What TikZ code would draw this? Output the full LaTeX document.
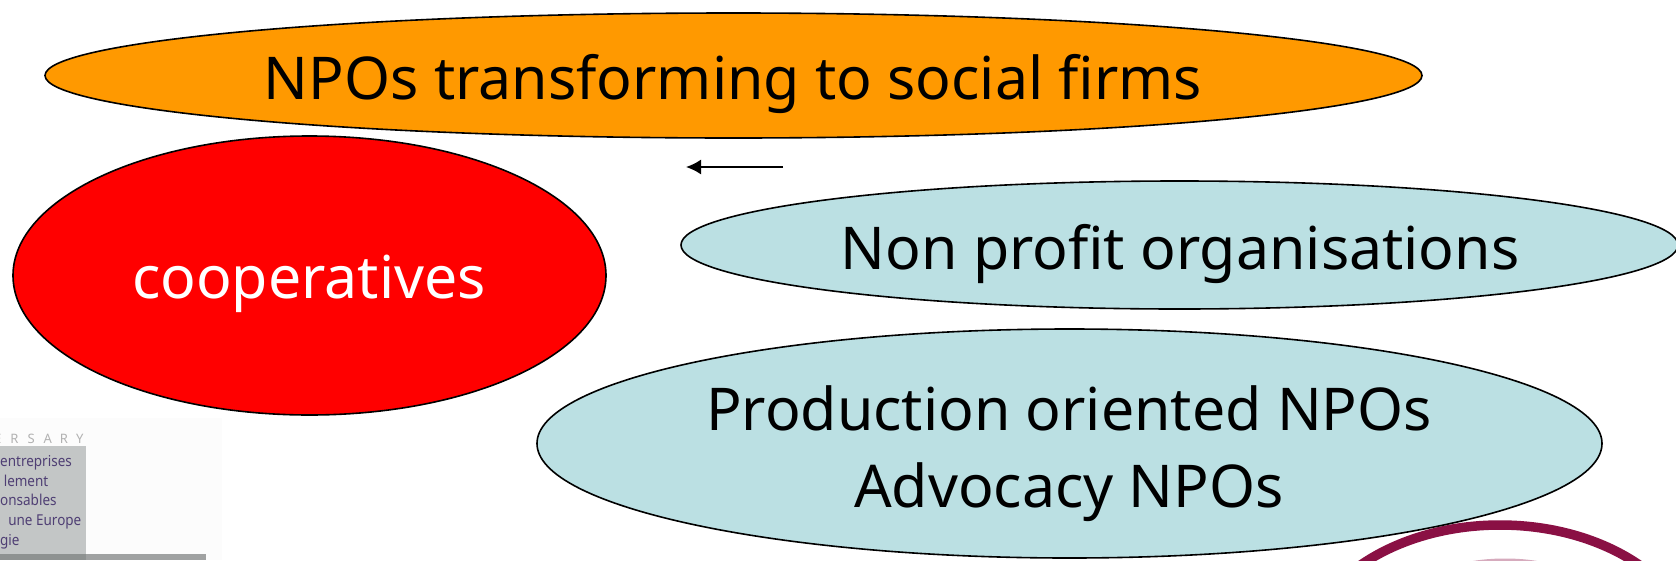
\documentclass[tikz,border=0pt]{standalone}
\usepackage{fontspec}
\usetikzlibrary{shapes.geometric,arrows.meta}
\setmainfont{Noto Sans}
\definecolor{orangeF}{HTML}{FF9900}
\definecolor{tealF}{HTML}{BBE0E3}
\definecolor{maroonL}{HTML}{8A1044}
\definecolor{logoG}{HTML}{C3C6C6}
\definecolor{logoD}{HTML}{8E9291}
\definecolor{logoB}{HTML}{A0A2A2}
\definecolor{logoT}{HTML}{4F3F74}
\tikzset{
  oval/.style={draw=black,line width=1.6pt,ellipse,inner sep=0pt},
  bigtext/.style={font=\fontsize{59}{77}\selectfont,align=center,inner sep=0pt},
  logotext/.style={font=\fontsize{15}{19.6}\selectfont,text=logoT,align=left,inner sep=0pt,anchor=north west,transform shape,xscale=0.9},
}
\begin{document}
\begin{tikzpicture}[x=1pt,y=-1pt]
\useasboundingbox (0,0) rectangle (1676,560);
\begin{scope}
\clip (0,0) rectangle (1676,560);
% logo fragment
\fill[white!99!black] (0,418) rectangle (222,560);
\fill[logoG] (0,446) rectangle (86,560);
\fill[logoB] (86,554) rectangle (206,560);
\fill[logoD] (0,554) rectangle (86,560);
\node[font=\fontsize{13}{15}\selectfont\bfseries,text=gray!60,inner sep=0pt,anchor=base west] (anniv) at (-6,443) {E\hspace{9pt}R\hspace{9pt}S\hspace{9pt}A\hspace{8pt}R\hspace{8pt}Y};
\node[logotext] (logotxt) at (0,455.5) {entreprises\\\hspace*{4pt}lement\\onsables\\\hspace*{9pt}une Europe\\gie};
% maroon arc
\draw[maroonL,line width=9.5pt] (1500,665) ellipse [x radius=199,y radius=140];
\fill[maroonL!35] (1505,574.5) ellipse [x radius=60,y radius=16];
% ovals
\node[oval,fill=orangeF,minimum width=1377pt,minimum height=125pt] (firms) at (733.5,75.5) {};
\node[oval,fill=red,minimum width=593pt,minimum height=279pt] (coop) at (309.5,275.5) {};
\node[oval,fill=tealF,minimum width=997pt,minimum height=128pt] (npo) at (1179.5,245) {};
\node[oval,fill=tealF,minimum width=1065pt,minimum height=229pt] (prod) at (1069.5,443.5) {};
\end{scope}
\node[bigtext] (t1) at (733,84) {NPOs transforming to social firms};
\node[bigtext,text=white] (t2) at (309,284) {cooperatives};
\node[bigtext] (t3) at (1180,254) {Non profit organisations};
\node[bigtext] (t4) at (1069,454) {Production oriented NPOs\\Advocacy NPOs};
\coordinate (aS) at (783,167);
\coordinate (aE) at (686,167);
\draw[-{Latex[length=15pt,width=15pt]},line width=1.7pt] (aS) -- (aE);
\end{tikzpicture}
\end{document}
